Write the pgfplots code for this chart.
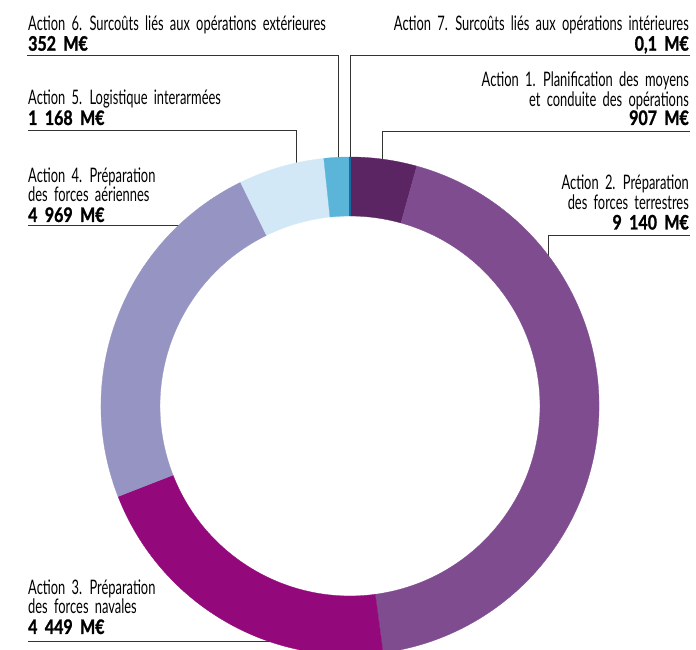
\documentclass[border=0pt]{standalone}
\usepackage{fontspec}
\setmainfont{Lato}[FakeStretch=0.645, WordSpace=1.9, BoldFeatures={FakeStretch=0.80, FakeBold=1.2}]
\usepackage{pgfplots}
\usepackage{pgfplotstable}
\pgfplotsset{compat=1.18}
\definecolor{a1}{HTML}{5B2462}
\definecolor{a2}{HTML}{7F4C8F}
\definecolor{a3}{HTML}{93097C}
\definecolor{a4}{HTML}{9694C2}
\definecolor{a5}{HTML}{D2E8F6}
\definecolor{a6}{HTML}{5BB5D9}
\definecolor{a7}{HTML}{1A6AA0}
\definecolor{lead}{HTML}{333333}
\pgfplotstableread{
value col lw
907 a1 0.3
9140 a2 0.3
4449 a3 0.3
4969 a4 0.3
1168 a5 0.3
352 a6 0.3
0.1 a7 1.3
}\donutdata
\newcommand\lab[4]{\node[anchor=base #3, inner sep=0pt, font=\fontsize{20bp}{20bp}\selectfont] at (axis cs:#1,#2) {#4};}
\newcommand\blab[4]{\node[anchor=base #3, inner sep=0pt, font=\fontsize{20bp}{20bp}\selectfont\bfseries] at (axis cs:#1,#2) {#4};}
\begin{document}
\begin{tikzpicture}
\begin{axis}[
  scale only axis, width=696bp, height=650bp,
  xmin=0, xmax=696, ymin=0, ymax=650, y dir=reverse,
  hide axis, clip=true]
% leader lines
\pgfplotsextra{
  \begin{scope}[lead, line width=0.9bp]
  \draw (axis cs:27,55.5) -- (axis cs:338,55.5) -- (axis cs:338,170);
  \draw (axis cs:690,55.5) -- (axis cs:350,55.5) -- (axis cs:350,165);
  \draw (axis cs:690,131) -- (axis cs:382,131) -- (axis cs:382,170);
  \draw (axis cs:28,130.5) -- (axis cs:296.5,130.5) -- (axis cs:296.5,175);
  \draw (axis cs:28,225.5) -- (axis cs:195,225.5);
  \draw (axis cs:690,235) -- (axis cs:548,235) -- (axis cs:548,270);
  \draw (axis cs:28,641) -- (axis cs:290,641);
  \end{scope}
}
% donut from data (values in hundreds of M€ to stay within TeX limits)
\pgfplotsextra{
  \pgfplotstablegetrowsof{\donutdata}
  \pgfmathtruncatemacro\nrows{\pgfplotsretval-1}
  \gdef\donuttotal{0}
  \foreach \i in {0,...,\nrows}{
    \pgfplotstablegetelem{\i}{value}\of\donutdata
    \pgfmathsetmacro\tmp{\donuttotal+\pgfplotsretval/100}
    \xdef\donuttotal{\tmp}
  }
  \gdef\donutcum{0}
  \foreach \i in {0,...,\nrows}{
    \pgfplotstablegetelem{\i}{value}\of\donutdata \let\sv\pgfplotsretval
    \pgfplotstablegetelem{\i}{col}\of\donutdata \let\scol\pgfplotsretval
    \pgfplotstablegetelem{\i}{lw}\of\donutdata \let\slw\pgfplotsretval
    \pgfmathsetmacro\aS{90-\donutcum/\donuttotal*360}
    \pgfmathsetmacro\tmp{\donutcum+\sv/100}
    \xdef\donutcum{\tmp}
    \pgfmathsetmacro\aE{90-\donutcum/\donuttotal*360}
    \filldraw[fill=\scol, draw=\scol, line width=\slw bp]
      (axis cs:350,406) ++(\aS:249bp) arc[start angle=\aS, end angle=\aE, radius=249bp]
      -- ++(\aE:-59bp) arc[start angle=\aE, end angle=\aS, radius=190bp] -- cycle;
  }
}
% labels
\lab{28}{30.7}{west}{Action 6. Surcoûts liés aux opérations extérieures}
\blab{28}{50.7}{west}{352 M€}
\lab{28}{105}{west}{Action 5. Logistique interarmées}
\blab{28}{125}{west}{1 168 M€}
\lab{28}{183}{west}{Action 4. Préparation}
\lab{28}{202}{west}{des forces aériennes}
\blab{28}{222}{west}{4 969 M€}
\lab{28}{595}{west}{Action 3. Préparation}
\lab{28}{613.5}{west}{des forces navales}
\blab{28}{634}{west}{4 449 M€}
\lab{689}{30.5}{east}{Action 7. Surcoûts liés aux opérations intérieures}
\blab{689}{50.7}{east}{0,1 M€}
\lab{689}{87}{east}{Action 1. Planification des moyens}
\lab{689}{106.5}{east}{et conduite des opérations}
\blab{689}{125}{east}{907 M€}
\lab{689}{190}{east}{Action 2. Préparation}
\lab{689}{209.5}{east}{des forces terrestres}
\blab{689}{229.5}{east}{9 140 M€}
\end{axis}
\pgfresetboundingbox
\path (current axis.south west) rectangle (current axis.north east);
\end{tikzpicture}
\end{document}
